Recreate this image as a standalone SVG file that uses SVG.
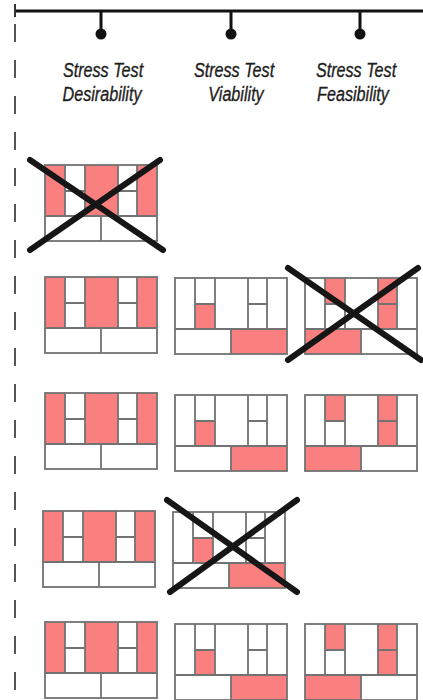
<svg xmlns="http://www.w3.org/2000/svg" xmlns:xlink="http://www.w3.org/1999/xlink" width="423" height="700" viewBox="0 0 423 700">
<style>
.pk{fill:#fa8080;stroke:none}
.gl{fill:none;stroke:#727272;stroke-width:1.8}
.bg{fill:#ffffff}
.lbl{font-family:"Liberation Sans",Arial,sans-serif;font-style:italic;font-size:21px;fill:#1e1e1e;stroke:#1e1e1e;stroke-width:0.35;text-anchor:middle}
.tl{stroke:#111;stroke-width:3;fill:none}
.x{stroke:#161616;stroke-width:6;stroke-linecap:round;fill:none}
</style>
<defs>
<g id="grid">
<rect class="gl" x="0" y="0" width="112" height="76"/>
<path class="gl" d="M20 0V51M40 0V51M73 0V51M92 0V51M0 51H112M20 26H40M73 26H92M56 51V76"/>
</g>
<g id="cD">
<rect class="bg" x="0" y="0" width="112" height="76"/>
<rect class="pk" x="0" y="0" width="20" height="51"/>
<rect class="pk" x="40" y="0" width="33" height="51"/>
<rect class="pk" x="92" y="0" width="20" height="51"/>
<use xlink:href="#grid"/>
</g>
<g id="cV">
<rect class="bg" x="0" y="0" width="112" height="76"/>
<rect class="pk" x="20" y="26" width="20" height="25"/>
<rect class="pk" x="56" y="51" width="56" height="25"/>
<use xlink:href="#grid"/>
</g>
<g id="cF">
<rect class="bg" x="0" y="0" width="112" height="76"/>
<rect class="pk" x="20" y="0" width="20" height="26"/>
<rect class="pk" x="73" y="0" width="19" height="51"/>
<rect class="pk" x="0" y="51" width="56" height="25"/>
<use xlink:href="#grid"/>
</g>
</defs>
<rect width="423" height="700" fill="#ffffff"/>
<g id="timeline">
<path class="tl" d="M15 11H423"/>
<path stroke="#333" stroke-width="2" d="M15 4V17"/>
<path d="M15 24V700" stroke="#555" stroke-width="2" stroke-dasharray="18 18"/>
<path class="tl" d="M101 11V34M231 11V34M360 11V34"/>
<circle cx="101" cy="34" r="5.5" fill="#111"/>
<circle cx="231" cy="34" r="5.5" fill="#111"/>
<circle cx="360" cy="34" r="5.5" fill="#111"/>
</g>
<g id="label-desirability">
<text class="lbl" transform="translate(103,77) scale(0.77,1)">Stress Test</text>
<text class="lbl" transform="translate(102,101) scale(0.77,1)">Desirability</text>
</g>
<g id="label-viability">
<text class="lbl" transform="translate(234,77) scale(0.77,1)">Stress Test</text>
<text class="lbl" transform="translate(236,101) scale(0.77,1)">Viability</text>
</g>
<g id="label-feasibility">
<text class="lbl" transform="translate(356,77) scale(0.77,1)">Stress Test</text>
<text class="lbl" transform="translate(353,101) scale(0.77,1)">Feasibility</text>
</g>
<g id="r1-desirability"><use xlink:href="#cD" x="45" y="165"/></g>
<g id="r2-desirability"><use xlink:href="#cD" x="45" y="277"/></g>
<g id="r2-viability"><use xlink:href="#cV" x="175" y="278"/></g>
<g id="r2-feasibility"><use xlink:href="#cF" x="305" y="278"/></g>
<g id="r3-desirability"><use xlink:href="#cD" x="45" y="393"/></g>
<g id="r3-viability"><use xlink:href="#cV" x="175" y="395"/></g>
<g id="r3-feasibility"><use xlink:href="#cF" x="305" y="395"/></g>
<g id="r4-desirability"><use xlink:href="#cD" x="43" y="511"/></g>
<g id="r4-viability"><use xlink:href="#cV" x="173" y="512"/></g>
<g id="r5-desirability"><use xlink:href="#cD" x="45" y="622"/></g>
<g id="r5-viability"><use xlink:href="#cV" x="175" y="624"/></g>
<g id="r5-feasibility"><use xlink:href="#cF" x="305" y="624"/></g>
<g id="crosses">
<path class="x" d="M30 160L163 250M160 160L30 250"/>
<path class="x" d="M288 268L421 360M418 268L288 360"/>
<path class="x" d="M167 500L297 592M297 500L170 592"/>
</g>
</svg>
